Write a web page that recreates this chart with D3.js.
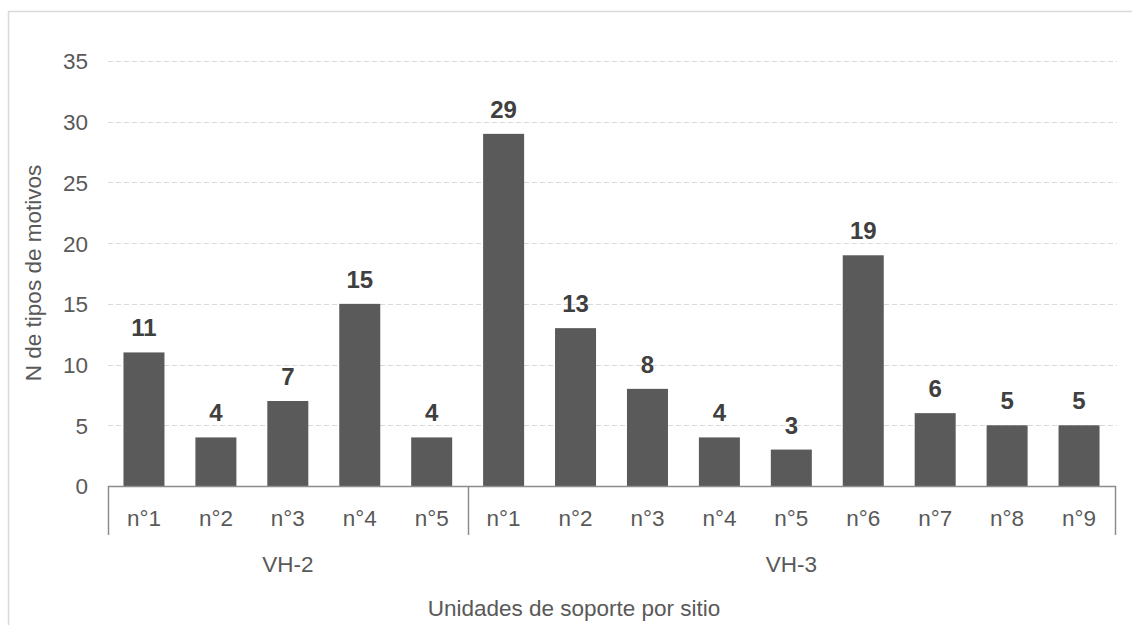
<!DOCTYPE html>
<html>
<head>
<meta charset="utf-8">
<script src="https://cdn.jsdelivr.net/npm/d3@7"></script>
<style>
  html, body { margin: 0; padding: 0; background: #fff; }
  svg { display: block; }
  text { font-family: "Liberation Sans", Arial, sans-serif; }
</style>
</head>
<body>
<svg id="chart" width="1132" height="625"></svg>
<script>
const groups = ["VH-2", "VH-3"];
const groupCounts = [5, 9];
const categories = ["n°1","n°2","n°3","n°4","n°5","n°1","n°2","n°3","n°4","n°5","n°6","n°7","n°8","n°9"];
const values = [11, 4, 7, 15, 4, 29, 13, 8, 4, 3, 19, 6, 5, 5];
const yTicks = [0, 5, 10, 15, 20, 25, 30, 35];
const yTitle = "N de tipos de motivos";
const xTitle = "Unidades de soporte por sitio";

const svg = d3.select("#chart");
const W = 1132, H = 625;
const m = { left: 108, right: 1115, top: 61, bottom: 486 };
const FS = 22.5;

// outer frame (top and left edges visible)
svg.append("rect").attr("x", 8.5).attr("y", 11.5).attr("width", W + 10).attr("height", H + 10)
  .attr("fill", "none").attr("stroke", "#d9d9d9").attr("stroke-width", 1.5);

const keys = categories.map((c, i) => i);
const x = d3.scaleBand().domain(keys).range([m.left, m.right]).paddingInner(0.43).paddingOuter(0.215);
const y = d3.scaleLinear().domain([0, 35]).range([m.bottom, m.top]);

// gridlines
svg.append("g").selectAll("line").data(yTicks.filter(t => t > 0)).join("line")
  .attr("x1", m.left).attr("x2", m.right + 2)
  .attr("y1", d => Math.round(y(d)) + 0.5).attr("y2", d => Math.round(y(d)) + 0.5)
  .attr("stroke", "#d9d9d9").attr("stroke-width", 1.2).attr("stroke-dasharray", "5,3");

// y axis labels
const yAxis = d3.axisLeft(y).tickValues(yTicks).tickSize(0).tickPadding(0);
const yg = svg.append("g").attr("transform", `translate(${88},0)`).call(yAxis);
yg.select(".domain").remove();
yg.selectAll("text").attr("font-size", FS).attr("fill", "#595959")
  .attr("font-family", "'Liberation Sans', Arial, sans-serif").attr("dy", "0.35em");

// bars
svg.append("g").selectAll("rect").data(values).join("rect")
  .attr("x", (d, i) => x(i)).attr("width", x.bandwidth())
  .attr("y", d => y(d)).attr("height", d => y(0) - y(d))
  .attr("fill", "#5a5a5a");

// value labels
svg.append("g").selectAll("text").data(values).join("text")
  .attr("x", (d, i) => x(i) + x.bandwidth() / 2).attr("y", d => y(d) - 16)
  .attr("text-anchor", "middle").attr("font-size", 24).attr("font-weight", "bold")
  .attr("fill", "#404040").text(d => d);

// x axis line
svg.append("line").attr("x1", m.left).attr("x2", m.right + 1)
  .attr("y1", m.bottom + 0.5).attr("y2", m.bottom + 0.5)
  .attr("stroke", "#8c8c8c").attr("stroke-width", 1.5);

// category labels
const xAxis = d3.axisBottom(x).tickFormat(i => categories[i]).tickSize(0).tickPadding(0);
const xg = svg.append("g").attr("transform", `translate(0,${m.bottom})`).call(xAxis);
xg.select(".domain").remove();
xg.selectAll("text").attr("font-size", FS).attr("fill", "#595959")
  .attr("font-family", "'Liberation Sans', Arial, sans-serif").attr("y", 40).attr("dy", null);

// group separators and labels
let start = 0;
const bounds = [m.left];
groupCounts.forEach((n, gi) => {
  const endIdx = start + n - 1;
  const x0 = gi === 0 ? m.left : x(start) - x.step() * x.paddingInner() / 2;
  const x1 = endIdx === categories.length - 1 ? m.right : x(endIdx) + x.bandwidth() + x.step() * x.paddingInner() / 2;
  bounds.push(x1);
  svg.append("text").attr("x", (x0 + x1) / 2).attr("y", 572)
    .attr("text-anchor", "middle").attr("font-size", FS).attr("fill", "#595959").text(groups[gi]);
  start += n;
});
svg.append("g").selectAll("line").data(bounds).join("line")
  .attr("x1", d => Math.round(d) + 0.5).attr("x2", d => Math.round(d) + 0.5)
  .attr("y1", m.bottom).attr("y2", 535)
  .attr("stroke", "#8c8c8c").attr("stroke-width", 1.5);

// axis titles
svg.append("text").attr("x", 574).attr("y", 616).attr("text-anchor", "middle")
  .attr("font-size", FS).attr("fill", "#595959").text(xTitle);
svg.append("text").attr("transform", `translate(41,${273}) rotate(-90)`)
  .attr("text-anchor", "middle").attr("font-size", FS).attr("fill", "#595959").text(yTitle);
</script>
</body>
</html>
